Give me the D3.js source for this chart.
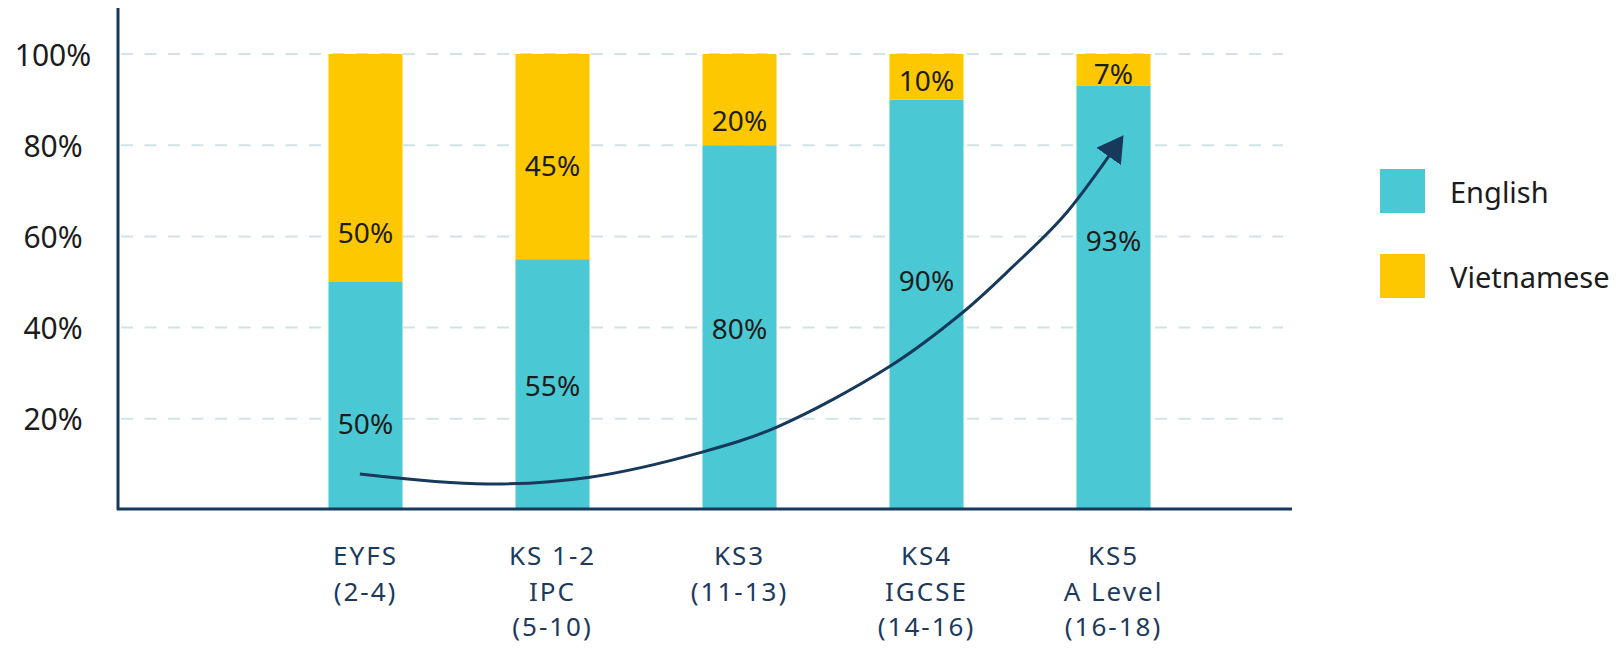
<!DOCTYPE html>
<html>
<head>
<meta charset="utf-8">
<script src="https://cdn.jsdelivr.net/npm/d3@7"></script>
<style>
  html, body { margin: 0; padding: 0; background: #fff; }
  svg { display: block; font-family: "Noto Sans", "Open Sans", sans-serif; }
</style>
</head>
<body>
<svg id="chart" width="1618" height="648"></svg>
<script>
// stage labels (one entry per line of the label)
const stages = [
  ["EYFS", "(2-4)"],
  ["KS 1-2", "IPC", "(5-10)"],
  ["KS3", "(11-13)"],
  ["KS4", "IGCSE", "(14-16)"],
  ["KS5", "A Level", "(16-18)"]
];
const english = [50, 55, 80, 90, 93];
const vietnamese = [50, 45, 20, 10, 7];
const yTicks = [20, 40, 60, 80, 100];
const seriesNames = ["English", "Vietnamese"];

// where the % label sits inside each segment (0 = bottom, 1 = top)
const engLabelAt = [0.38, 0.5, 0.5, 0.56, 0.637];
const vieLabelAt = [0.22, 0.46, 0.28, 0.43, 0.4];

// trend arrow, in (stage index, percent)
const arrowIdx = [-0.03, 0.65, 1.2, 1.8, 2.2, 2.8, 3.19, 3.46, 3.73, 3.98];
const arrowPct = [7.9, 5.7, 7.2, 12.7, 18.2, 31.4, 43.2, 53.3, 64.3, 77.9];

const TEAL = "#4ac9d4", YELLOW = "#fec800", NAVY = "#17395c";

const svg = d3.select("#chart");
const names = stages.map(s => s[0]);

const x = d3.scaleBand().domain(names).range([272, 1207])
  .paddingInner(0.604).paddingOuter(0.302);
const y = d3.scaleLinear().domain([0, 100]).range([510, 54]);
const xi = d3.scaleLinear().domain([0, 4])
  .range([x(names[0]) + x.bandwidth() / 2, x(names[4]) + x.bandwidth() / 2]);

// grid
svg.append("g").selectAll("line").data(yTicks).enter()
  .append("line")
  .attr("x1", 121).attr("x2", 1283)
  .attr("y1", d => y(d)).attr("y2", d => y(d))
  .attr("stroke", "#d0e3e6").attr("stroke-width", 2)
  .attr("stroke-dasharray", "12 11.5");

// y tick labels
svg.append("g").selectAll("text").data(yTicks).enter()
  .append("text")
  .attr("x", 53).attr("y", d => y(d))
  .attr("text-anchor", "middle").attr("dominant-baseline", "central")
  .style("font-size", "30px").attr("fill", "#1c1c1c")
  .text(d => d + "%");

// stacked bars
const bars = svg.append("g");
names.forEach((n, i) => {
  bars.append("rect")
    .attr("x", x(n)).attr("width", x.bandwidth())
    .attr("y", y(english[i])).attr("height", y(0) - y(english[i]))
    .attr("fill", TEAL);
  bars.append("rect")
    .attr("x", x(n)).attr("width", x.bandwidth())
    .attr("y", y(100)).attr("height", y(english[i]) - y(100))
    .attr("fill", YELLOW);

  const cx = x(n) + x.bandwidth() / 2;
  bars.append("text")
    .attr("x", cx).attr("y", y(english[i] * engLabelAt[i]))
    .attr("text-anchor", "middle").attr("dominant-baseline", "central")
    .style("font-size", "28px").attr("fill", "#1c1c1c")
    .text(english[i] + "%");
  bars.append("text")
    .attr("x", cx).attr("y", y(english[i] + vietnamese[i] * vieLabelAt[i]))
    .attr("text-anchor", "middle").attr("dominant-baseline", "central")
    .style("font-size", "28px").attr("fill", "#1c1c1c")
    .text(vietnamese[i] + "%");
});

// axes lines
svg.append("line").attr("x1", 118).attr("x2", 118).attr("y1", 8).attr("y2", 510)
  .attr("stroke", NAVY).attr("stroke-width", 3);
svg.append("line").attr("x1", 117).attr("x2", 1292).attr("y1", 509).attr("y2", 509)
  .attr("stroke", NAVY).attr("stroke-width", 3);

// x labels, one text per line
const xl = svg.append("g");
stages.forEach((lines, i) => {
  const cx = x(names[i]) + x.bandwidth() / 2;
  lines.forEach((l, j) => {
    xl.append("text")
      .attr("x", cx).attr("y", 555 + j * 35.5)
      .attr("text-anchor", "middle").attr("dominant-baseline", "central")
      .style("font-size", "26px").style("letter-spacing", "2px")
      .attr("fill", "#1d3a5c")
      .text(l);
  });
});

// arrow
const defs = svg.append("defs");
defs.append("marker")
  .attr("id", "head").attr("markerUnits", "userSpaceOnUse")
  .attr("viewBox", "0 0 26 30").attr("refX", 2).attr("refY", 15)
  .attr("markerWidth", 26).attr("markerHeight", 30).attr("orient", "auto")
  .append("path").attr("d", "M0,0L26,15L0,30Z").attr("fill", NAVY);

const arrowPts = arrowIdx.map((v, i) => [xi(v), y(arrowPct[i])]);
svg.append("path")
  .attr("d", d3.line().curve(d3.curveCatmullRom)(arrowPts))
  .attr("fill", "none").attr("stroke", NAVY).attr("stroke-width", 3)
  .attr("marker-end", "url(#head)");

// legend
const legend = svg.append("g").attr("transform", "translate(1380,169)");
seriesNames.forEach((s, i) => {
  const g = legend.append("g").attr("transform", `translate(0,${i * 85})`);
  g.append("rect").attr("width", 45).attr("height", 44).attr("fill", i === 0 ? TEAL : YELLOW);
  g.append("text").attr("x", 70).attr("y", 22)
    .attr("dominant-baseline", "central")
    .style("font-size", "29px").attr("fill", "#1c1c1c").text(s);
});
</script>
</body>
</html>
